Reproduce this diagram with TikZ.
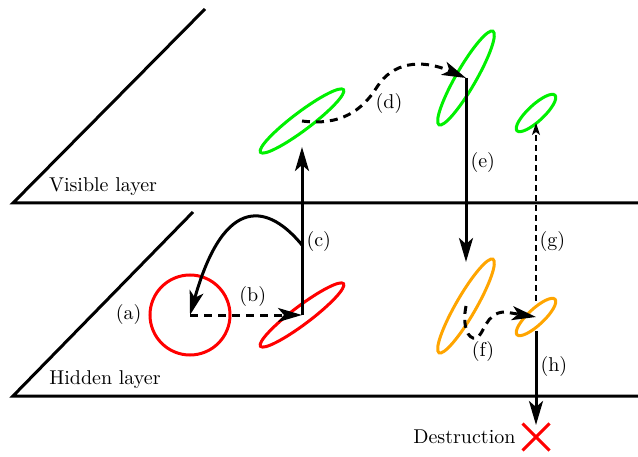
\documentclass[tikz,border=0pt]{standalone}
\usepackage{tikz}
\usetikzlibrary{arrows.meta,positioning,shapes.geometric,shapes.misc}
\definecolor{hidred}{RGB}{255,0,0}
\definecolor{visgreen}{RGB}{0,240,0}
\definecolor{midorange}{RGB}{255,165,0}
\tikzset{
  layer/.style={draw=black,line width=1.5pt},
  cell/.style={ellipse,draw=#1,line width=1.5pt,inner sep=0pt},
  arr/.style={-{Stealth[length=12pt,width=7pt,inset=3pt]},draw=black,line width=1.5pt},
  darr/.style={arr,dash pattern=on 4pt off 3pt},
  thinarr/.style={-{Stealth[length=6pt,width=4pt,inset=1.5pt]},draw=black,line width=0.7pt,dash pattern=on 3pt off 2pt},
  tag/.style={inner sep=1.5pt}
}

\begin{document}
\begin{tikzpicture}[x=0.5pt,y=0.5pt]
  \useasboundingbox (0,0) rectangle (638,456);

  % the two layers
  \draw[layer] (205,447) -- (13,253) -- (638,253);
  \node (vis) at (103,269) {Visible layer};
  \draw[layer] (193,244) -- (13,60) -- (638,60);
  \node (hid) at (105,76) {Hidden layer};

  % units
  \node[cell=hidred,circle,minimum size=40pt] (r1) at (190,141) {};
  \node[cell=hidred,minimum width=52pt,minimum height=9pt,rotate=37] (r2) at (302,141) {};
  \node[cell=visgreen,minimum width=52pt,minimum height=9pt,rotate=37] (g1) at (302,335) {};
  \node[cell=visgreen,minimum width=54pt,minimum height=10pt,rotate=60] (g2) at (466,378) {};
  \node[cell=midorange,minimum width=54pt,minimum height=10pt,rotate=60] (o1) at (466,150) {};
  \node[cell=midorange,minimum width=26pt,minimum height=8pt,rotate=43] (o2) at (536,139) {};
  \node[cell=visgreen,minimum width=26pt,minimum height=8pt,rotate=43] (g3) at (536,343) {};
  \node[cross out,draw=hidred,line width=1.5pt,minimum size=12pt,inner sep=0pt] (kill) at (536,19) {};
  \node[left=0pt of kill] (dest) {Destruction};
  \node[left=0pt of r1] (la) {(a)};

  % transitions
  \draw[darr] (r1.center) -- node[above,pos=0.56] {(b)} (r2.center);
  \draw[arr,shorten >=13pt] (r2.center) -- node[right,tag,pos=0.38] {(c)} (g1.center);
  \coordinate (cbk) at (302,211);
  \draw[arr] (cbk) .. controls (270,250) and (225,265) .. (r1.center);
  \draw[darr] (g1.center) .. controls (340,330) and (362,345) .. (377,369)
    .. controls (392,393) and (420,398) .. (g2.center);
  \node (ld) at (389,352) {(d)};
  \draw[arr,shorten >=22pt] (g2.center) -- node[right,tag,pos=0.37] {(e)} (o1.center);
  \draw[darr] (o1.center) .. controls (462,130) and (468,116) .. (476,118)
    .. controls (484,120) and (485,144) .. (505,144) -- (o2.center);
  \node (lf) at (483,104) {(f)};
  \draw[thinarr,shorten <=8pt,shorten >=5pt] (o2.center) -- node[right,tag,pos=0.37] {(g)} (g3.center);
  \draw[arr,shorten <=7pt,shorten >=6pt] (o2.center) -- node[right,tag,pos=0.41] {(h)} (kill.center);
\end{tikzpicture}
\end{document}
